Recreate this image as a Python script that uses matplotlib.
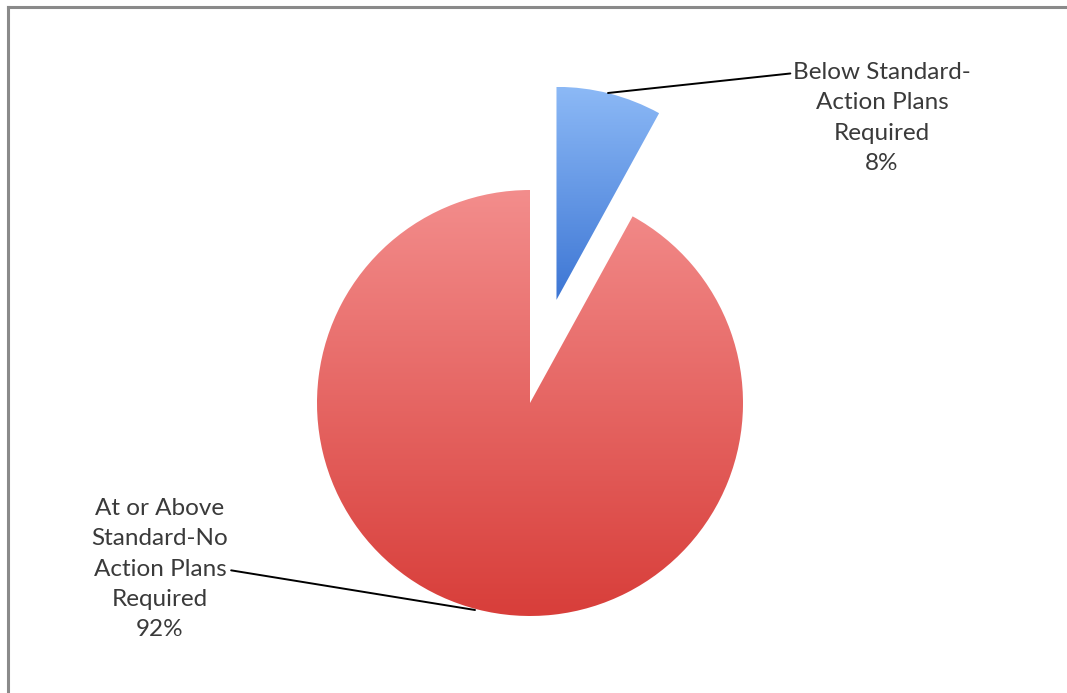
import numpy as np
import matplotlib
matplotlib.use("Agg")
import matplotlib.pyplot as plt
from matplotlib.colors import LinearSegmentedColormap

# ---- data ----
categories = ["Below Standard-\nAction Plans\nRequired", "At or Above\nStandard-No\nAction Plans\nRequired"]
values = [8, 92]
explode = [0.5, 0.0]
top_colors = ["#8cb9f6", "#f38d8c"]
bottom_colors = ["#3d76d4", "#d83e3a"]

plt.rcParams['font.family'] = ['Lato', 'DejaVu Sans']

W, H, DPI = 1067, 693, 100
fig = plt.figure(figsize=(W / DPI, H / DPI), dpi=DPI)
fig.patch.set_facecolor("white")

# pie centre at (530, 403) px, radius 213 px
cx, cy, R = 530.0, 403.0, 213.0
ax = fig.add_axes([0, 0, 1, 1])

wedges, _ = ax.pie(values, explode=explode, startangle=90, counterclock=False,
                   radius=1.0, frame=True)
ax.set_aspect('auto')
ax.axis('off')

for w, tc, bc in zip(wedges, top_colors, bottom_colors):
    w.set_facecolor('none')
    w.set_edgecolor('none')
    ext = w.get_path().get_extents()
    cmap = LinearSegmentedColormap.from_list("g", [bc, tc])
    grad = np.linspace(0, 1, 256).reshape(-1, 1)
    im = ax.imshow(grad, cmap=cmap, origin='lower', aspect='auto',
                   extent=[ext.x0, ext.x1, ext.y0, ext.y1], zorder=1)
    im.set_clip_path(w)

ax.set_xlim(-cx / R, (W - cx) / R)
ax.set_ylim(-(H - cy) / R, cy / R)
ax.set_aspect('auto')

def px(x, y):
    return ((x - cx) / R, (cy - y) / R)

txt_color = "#3a3a3a"
fs = 17.5
ls = 1.55
# label for small slice
ax.annotate(categories[0] + f"\n{values[0]}%", xy=px(608, 93), xytext=px(882, 118),
            ha='center', va='center', fontsize=fs, color=txt_color, linespacing=ls,
            arrowprops=dict(arrowstyle='-', color='black', lw=1.4,
                            shrinkA=0, shrinkB=0,
                            relpos=(0.0, 0.9)))
# label for large slice
ax.annotate(categories[1] + f"\n{values[1]}%", xy=px(475, 610), xytext=px(160, 569),
            ha='center', va='center', fontsize=fs, color=txt_color, linespacing=ls,
            arrowprops=dict(arrowstyle='-', color='black', lw=1.4,
                            shrinkA=0, shrinkB=0,
                            relpos=(0.96, 0.5)))

# frame (top and left edges)
fig.add_artist(plt.Line2D([8 / W, 8 / W], [0, 1 - 7 / H], transform=fig.transFigure,
                          color="#8a8a8a", lw=2.2))
fig.add_artist(plt.Line2D([8 / W, 1], [1 - 7 / H, 1 - 7 / H], transform=fig.transFigure,
                          color="#8a8a8a", lw=2.2))

fig.savefig("out.png", dpi=DPI, facecolor="white")
